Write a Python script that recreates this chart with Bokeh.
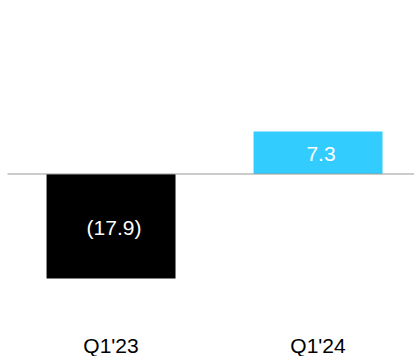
from bokeh.plotting import figure
from bokeh.models import ColumnDataSource, Range1d
from bokeh.core.properties import value
from bokeh.embed import file_html
from bokeh.resources import INLINE

categories = ["Q1'23", "Q1'24"]
values = [-17.9, 7.3]
colors = ["#000000", "#33CCFF"]

def fmt(v):
    return f"({abs(v):.1f})" if v < 0 else f"{v:.1f}"

xs = list(range(len(categories)))
Y_MIN, Y_MAX = -31.26, 29.72
CAT_LABEL_Y = -29.4

src = ColumnDataSource(dict(
    x=xs,
    top=[max(v, 0) for v in values],
    bottom=[min(v, 0) for v in values],
    mid=[v / 2 for v in values],
    label=[fmt(v) for v in values],
    cat=categories,
    cat_y=[CAT_LABEL_Y] * len(categories),
    color=colors,
))

p = figure(width=414, height=356, output_backend="svg", toolbar_location=None,
           x_range=Range1d(-0.534, 1.466), y_range=Range1d(Y_MIN, Y_MAX),
           min_border=0)
p.outline_line_color = None
p.grid.visible = False
p.axis.visible = False
p.background_fill_color = "white"
p.border_fill_color = "white"

p.vbar(x="x", top="top", bottom="bottom", width=0.623, fill_color="color",
       line_color=None, source=src)
p.segment(x0=[-0.5], x1=[1.466], y0=[0], y1=[0], line_color="#999999", line_width=1.2)
p.text(x="x", y="mid", text="label", source=src, text_color="white",
       text_font=value("Liberation Sans"), text_font_size="21px",
       text_align="center", text_baseline="middle", x_offset=3, y_offset=1)
p.text(x="x", y="cat_y", text="cat", source=src, text_color="#000000",
       text_font=value("Liberation Sans"), text_font_size="21px",
       text_align="center", text_baseline="middle")

open("out.html", "w").write(file_html(p, INLINE))
